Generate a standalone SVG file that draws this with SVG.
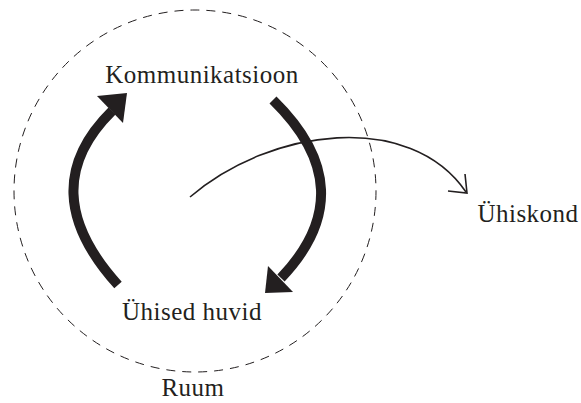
<svg xmlns="http://www.w3.org/2000/svg" width="581" height="403" viewBox="0 0 581 403">
<style>
.lbl{font-family:"Liberation Serif","DejaVu Serif",serif;font-size:25px;letter-spacing:0.5px;fill:#231f20;text-anchor:middle}
.thick{fill:none;stroke:#231f20;stroke-width:10}
.head{fill:#231f20;stroke:none}
.thin{fill:none;stroke:#231f20;stroke-width:1.6}
</style>
<rect width="581" height="403" fill="#fff"/>
<g id="ruum">
<ellipse cx="195" cy="191" rx="181" ry="181" fill="none" stroke="#231f20" stroke-width="1" stroke-dasharray="9 7"/>
<text class="lbl" x="193" y="396">Ruum</text>
</g>
<g id="kommunikatsioon"><text class="lbl" x="202" y="83">Kommunikatsioon</text></g>
<g id="uhised-huvid"><text class="lbl" x="192" y="320">Ühised huvid</text></g>
<g id="uhiskond"><text class="lbl" x="528" y="222">Ühiskond</text></g>
<g id="connectors">
<path class="thick" d="M118,285 Q32,190 112,111"/>
<polygon class="head" points="97,96 127,93 123,123"/>
<path class="thick" d="M273,100 Q365,190 281,278"/>
<polygon class="head" points="268,266 293,292 265,293"/>
<path class="thin" d="M190,197 C270,128 410,110 466,192"/>
<polyline class="thin" points="465,174 467,193 448,191"/>
</g>
</svg>
